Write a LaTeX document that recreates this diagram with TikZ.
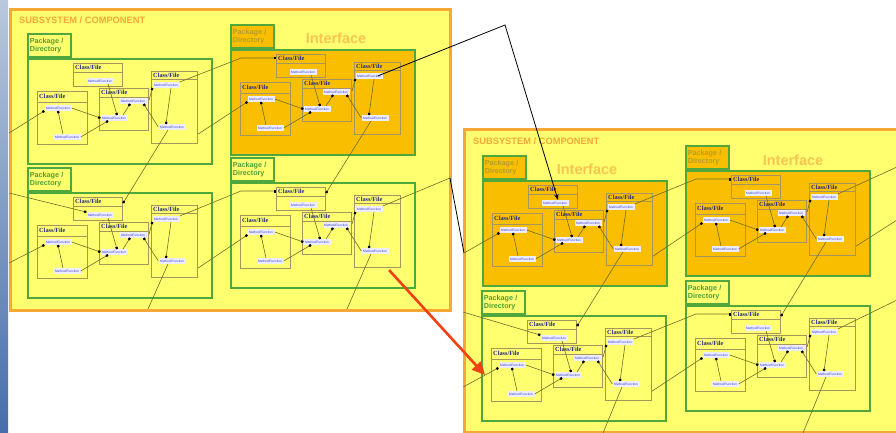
\documentclass[tikz,border=0pt]{standalone}
\usepackage{fontspec}
\setmainfont{Liberation Sans}
\newfontfamily\clsfont{Liberation Serif}
\usetikzlibrary{arrows.meta,positioning,calc}
\definecolor{subfill}{RGB}{255,255,112}
\definecolor{subline}{RGB}{245,168,55}
\definecolor{ifill}{RGB}{250,190,0}
\definecolor{pkgline}{RGB}{80,168,60}
\definecolor{pkgtext}{RGB}{75,160,55}
\definecolor{itabtext}{RGB}{175,160,40}
\definecolor{clsline}{RGB}{168,148,95}
\definecolor{clstext}{RGB}{35,40,130}
\definecolor{methfill}{RGB}{236,238,255}
\definecolor{methtext}{RGB}{60,60,200}
\definecolor{linkcol}{RGB}{110,110,40}
\definecolor{ifacetext}{RGB}{248,196,80}
\definecolor{redarr}{RGB}{240,65,20}

% one package: name, x, y, fill, tab text colour
\newcommand{\pkgdraw}[5]{%
\begin{scope}[shift={(#2,#3)}]
\node[pkgbox, fill=#4] (#1) at (0,0) {};
\node[pkgtab, fill=#4, text=#5] (#1-tab) at (0,0) {Package /\\Directory};
\node[cls, minimum width=49pt, minimum height=23pt] (#1-c1) at (46,5) {};
\node[cls, minimum width=50pt, minimum height=53pt] (#1-c2) at (10,33) {};
\node[cls, minimum width=49pt, minimum height=42pt] (#1-c3) at (72,30) {};
\node[cls, minimum width=46pt, minimum height=72pt] (#1-c4) at (124,13) {};
\foreach \c/\h in {c1/9,c2/11,c3/9,c4/8}{
  \draw[clsrule] ([yshift=-\h pt]#1-\c.north west) -- ([yshift=-\h pt]#1-\c.north east);
  \node[clslabel] (#1-\c-t) at ([shift={(2pt,-\h pt/2)}]#1-\c.north west) {Class/File};
}
\node[meth] (#1-c1m) at (73,23) {Method/Function};
\node[meth] (#1-c2m1) at (31,50) {Method/Function};
\node[meth] (#1-c2m2) at (40,79) {Method/Function};
\node[meth] (#1-c3m1) at (106,43) {Method/Function};
\node[meth] (#1-c3m2) at (87,60) {Method/Function};
\node[meth] (#1-c4m1) at (139,27) {Method/Function};
\node[meth] (#1-c4m2) at (145,69) {Method/Function};
\draw[conn] (#1-c2m1.east) -- (#1-c3m2.west);
\draw[conn] ([xshift=-4pt]#1-c2m2.north) -- (#1-c2m1.south);
\draw[conn] (#1-c2m2.east) -- ([xshift=-6pt]#1-c3m2.south);
\draw[conn] ([xshift=8pt]#1-c1m.south) -- ([xshift=3pt]#1-c3m2.north);
\draw[conn] ([xshift=9pt]#1-c3m2.north) -- ([xshift=-3pt]#1-c3m1.south);
\draw[conn] (#1-c4m2.west) -- ([xshift=-3pt]#1-c3m1.south east);
\draw[conn] ([yshift=-12pt]#1-c3.north east) -- (#1-c4m1.south west);
\draw[conn] ([xshift=5pt]#1-c4m1.south) -- ([xshift=-6pt]#1-c4m2.north);
\end{scope}}

\begin{document}
\begin{tikzpicture}[x=1pt,y=-1pt]
\tikzstyle{subsys} = [anchor=north west, draw=subline, line width=2.6pt, fill=subfill, inner sep=0pt]
\tikzstyle{subtitle} = [anchor=west, inner sep=0pt, text=subline, font=\fontsize{9.3}{10}\selectfont\bfseries]
\tikzstyle{pkgbox} = [anchor=north west, draw=pkgline, line width=1.7pt, minimum width=184pt, minimum height=105pt, inner sep=0pt]
\tikzstyle{pkgtab} = [anchor=south west, draw=pkgline, line width=1.7pt, text width=39pt, minimum height=23pt, inner sep=2pt, align=left, font=\fontsize{7.2}{8.6}\selectfont\bfseries]
\tikzstyle{ifacelabel} = [inner sep=0pt, text=ifacetext, font=\fontsize{14.5}{15}\selectfont\bfseries]
\tikzset{cls/.style={anchor=north west, draw=clsline, line width=1.1pt, inner sep=0pt},
  clsrule/.style={draw=clsline, line width=0.9pt},
  clslabel/.style={anchor=west, inner sep=0pt, text=clstext, font=\clsfont\fontsize{6.3}{7}\selectfont\bfseries},
  meth/.style={fill=methfill, text=methtext, minimum width=27pt, minimum height=5.5pt, inner sep=0.5pt, font=\fontsize{3.2}{3.4}\selectfont},
  conn/.style={draw=linkcol, line width=0.6pt, -{Square[length=2.2pt,width=2.2pt,color=black]}},
  plain/.style={draw=linkcol, line width=0.6pt},
  hopline/.style={draw=black, line width=0.8pt},
  redarrow/.style={draw=redarr, line width=2.6pt, -{Triangle[length=13pt,width=12pt]}}}
\useasboundingbox (0,0) rectangle (896,433);
\clip (0,0) rectangle (896,433);
\shade[top color={rgb,255:red,185;green,200;blue,220}, bottom color={rgb,255:red,70;green,110;blue,170}] (0,0) rectangle (8,433);

% left subsystem
\node[subsys, minimum width=440pt, minimum height=301pt] (ls) at (9,8) {};
\node[subtitle] (ls-title) at (19,20) {SUBSYSTEM / COMPONENT};
\pkgdraw{p1}{27}{58}{subfill}{pkgtext}
\pkgdraw{p2}{27}{192}{subfill}{pkgtext}
\pkgdraw{i}{230}{49}{ifill}{itabtext}
\pkgdraw{p4}{230}{182}{subfill}{pkgtext}
\node[ifacelabel] (i-title) at ([shift={(106pt,11pt)}]i.north west) {Interface};

% right subsystem
\node[subsys, minimum width=450pt, minimum height=303pt] (rs) at (463,128) {};
\node[subtitle] (rs-title) at (473,141.5) {SUBSYSTEM / COMPONENT};
\pkgdraw{a}{482}{180}{ifill}{itabtext}
\pkgdraw{b}{685}{170}{ifill}{itabtext}
\pkgdraw{c}{481}{315}{subfill}{pkgtext}
\pkgdraw{d}{685}{305}{subfill}{pkgtext}
\node[ifacelabel] (a-title) at ([shift={(105pt,11pt)}]a.north west) {Interface};
\node[ifacelabel] (b-title) at ([shift={(108pt,10pt)}]b.north west) {Interface};

% free ends
\coordinate (l1) at (9,133);
\coordinate (l2) at (9,193);
\coordinate (l3) at (9,263);
\coordinate (bt1) at (148,309);
\coordinate (bt2) at (347,309);
\coordinate (k1) at (505,25);
\coordinate (g1) at (450,178);
\coordinate (g2) at (464,253);
\coordinate (r1) at (463,312);
\coordinate (r2) at (463,387);
\coordinate (bt3) at (603,433);
\coordinate (bt4) at (803,433);
\coordinate (e1) at (897,167);
\coordinate (e2) at (897,220);
\coordinate (e3) at (897,300);

% connectors between packages
\draw[conn] (l1) -- (p1-c2m1.south west);
\draw[conn] (l2) -- (p2-c1m.north west);
\draw[conn] (l3) -- (p2-c2m1.south west);
\draw[conn] (p1-c4m1.north east) -- ([shift={(-35pt,-4pt)}]i-c1.north west) -- ([yshift=-4pt]i-c1.north west);
\draw[conn] ([yshift=10pt]p1-c4.south east) -- (i-c2m1.south west);
\draw[conn] ([xshift=-4pt]p1-c4m2.south) -- ([yshift=-6pt]p2-c1.north east);
\draw[conn] (p2-c4m1.north east) -- ([shift={(-35pt,-4pt)}]p4-c1.north west) -- ([yshift=-4pt]p4-c1.north west);
\draw[conn] ([yshift=10pt]p2-c4.south east) -- (p4-c2m1.south west);
\draw[plain] ([xshift=-4pt]p2-c4m2.south) -- (bt1);
\draw[conn] ([xshift=-4pt]i-c4m2.south) -- ([yshift=-6pt]p4-c1.north east);
\draw[plain] ([xshift=-4pt]p4-c4m2.south) -- (bt2);
\draw[plain] (p4-c4m1.north east) -- (g1);
\draw[hopline] (g1) -- (g2);
\draw[conn] (g2) -- (a-c2m1.south west);
\draw[hopline, -{Stealth[length=6pt,width=4.5pt]}] ([xshift=-5pt]i-c4m1.east) -- (k1) -- ([xshift=3pt]a-c1m.north);
\draw[conn] (a-c4m1.north east) -- ([shift={(-35pt,-4pt)}]b-c1.north west) -- ([yshift=-4pt]b-c1.north west);
\draw[conn] ([yshift=10pt]a-c4.south east) -- (b-c2m1.south west);
\draw[conn] ([xshift=-4pt]a-c4m2.south) -- ([yshift=-6pt]c-c1.north east);
\draw[conn] (r1) -- (c-c1m.north west);
\draw[conn] (r2) -- (c-c2m1.south west);
\draw[conn] (c-c4m1.north east) -- ([shift={(-35pt,-4pt)}]d-c1.north west) -- ([yshift=-4pt]d-c1.north west);
\draw[conn] ([yshift=10pt]c-c4.south east) -- (d-c2m1.south west);
\draw[plain] ([xshift=-4pt]c-c4m2.south) -- (bt3);
\draw[conn] ([xshift=-4pt]b-c4m2.south) -- ([yshift=-6pt]d-c1.north east);
\draw[plain] (b-c4m1.north east) -- (e1);
\draw[plain] ([yshift=10pt]b-c4.south east) -- (e2);
\draw[plain] (d-c4m1.north east) -- (e3);
\draw[plain] ([xshift=-4pt]d-c4m2.south) -- (bt4);

\draw[redarrow] ([shift={(-12pt,-2pt)}]p4-c4.south east) -- ([xshift=-6pt]c-c2.west);
\end{tikzpicture}
\end{document}
